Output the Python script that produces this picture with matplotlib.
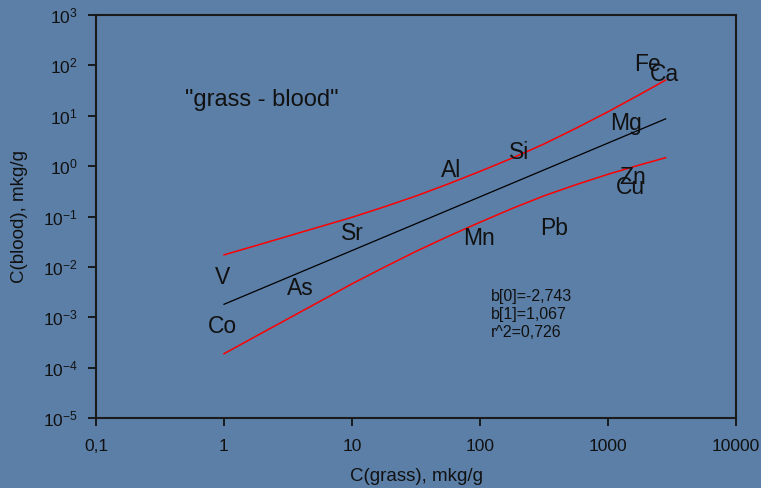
import numpy as np
import matplotlib
matplotlib.use("Agg")
import matplotlib.pyplot as plt

plt.rcParams['font.family'] = ['Liberation Sans', 'DejaVu Sans']
plt.rcParams['mathtext.fontset'] = 'custom'
plt.rcParams['mathtext.rm'] = 'Liberation Sans'
plt.rcParams['mathtext.default'] = 'regular'

# regression log10(C_blood) = b0 + b1 * log10(C_grass)
B0 = -2.743
B1 = 1.067
R2 = 0.726
fit_x = [1, 2820]

# confidence band around the fit
band_x = [1, 1.78, 3.16, 5.62, 10, 17.8, 31.6, 56.2, 100, 178, 316, 562, 1000, 1780, 2820]
band_upper = [0.0173, 0.0265, 0.0407, 0.0627, 0.0964, 0.155, 0.255, 0.441, 0.787,
              1.44, 2.75, 5.64, 12.0, 26.6, 51.1]
band_lower = [1.89e-4, 4.21e-4, 9.33e-4, 2.07e-3, 4.61e-3, 9.79e-3, 0.0203, 0.0402,
              0.0769, 0.144, 0.257, 0.428, 0.689, 1.06, 1.47]

# elements (label placed at the element's point)
elements = ["V", "As", "Co", "Sr", "Al", "Si", "Mn", "Pb", "Fe", "Ca", "Mg", "Zn", "Cu"]
elem_grass = [0.97, 3.93, 0.98, 10.0, 59.3, 202, 98.2, 378, 2020, 2740, 1380, 1570, 1490]
elem_blood = [6.26e-3, 3.79e-3, 6.67e-4, 0.0468, 0.833, 1.90, 0.0372, 0.0588, 106, 67,
              7.14, 0.605, 0.383]

xticks = [0.1, 1, 10, 100, 1000, 10000]
xtick_labels = ["0,1", "1", "10", "100", "1000", "10000"]
yexps = list(range(-5, 4))

BG = '#5b7fa7'
INK = '#111111'

fig = plt.figure(figsize=(7.61, 4.88), dpi=100, facecolor=BG)
ax = fig.add_axes([96 / 761, 70 / 488, 640 / 761, 403 / 488])
ax.set_facecolor(BG)
ax.set_xscale('log')
ax.set_yscale('log')
ax.set_xlim(0.1, 10000)
ax.set_ylim(1e-5, 1e3)

fit_y = [10 ** (B0 + B1 * np.log10(x)) for x in fit_x]
ax.plot(fit_x, fit_y, color='black', lw=0.9)
ax.plot(band_x, band_upper, color='red', lw=1.1)
ax.plot(band_x, band_lower, color='red', lw=1.1)

for name, gx, by in zip(elements, elem_grass, elem_blood):
    ax.text(gx, by, name, fontsize=16.5, ha='center', va='center', color=INK)

ax.text(0.259, 0.79, '"grass - blood"', transform=ax.transAxes, fontsize=17,
        ha='center', va='center', color=INK)
stats = f"b[0]={B0:.3f}\nb[1]={B1:.3f}\nr^2={R2:.3f}".replace('.', ',')
ax.text(0.617, 0.32, stats, transform=ax.transAxes, fontsize=11.5,
        ha='left', va='top', linespacing=1.25, color=INK)

ax.set_xticks(xticks)
ax.set_xticklabels(xtick_labels)
ax.set_yticks([10.0 ** e for e in yexps])
ax.set_yticklabels([f"10$^{{{e}}}$" for e in yexps])
ax.minorticks_off()
ax.tick_params(direction='out', length=6, width=1.3, colors=INK, labelsize=12.5)
ax.tick_params(axis='x', pad=9)
ax.tick_params(axis='y', pad=7)

for sp in ax.spines.values():
    sp.set_color('#1a1a1a')
    sp.set_linewidth(1.5)

ax.set_xlabel("C(grass), mkg/g", fontsize=13.5, color=INK)
ax.set_ylabel("C(blood), mkg/g", fontsize=13.5, color=INK)
ax.xaxis.set_label_coords(0.5, -0.146)
ax.xaxis.label.set_va('center')
ax.yaxis.set_label_coords(-0.119, 0.5)
ax.yaxis.label.set_va('center')

fig.savefig("out.png", dpi=100, facecolor=BG)
